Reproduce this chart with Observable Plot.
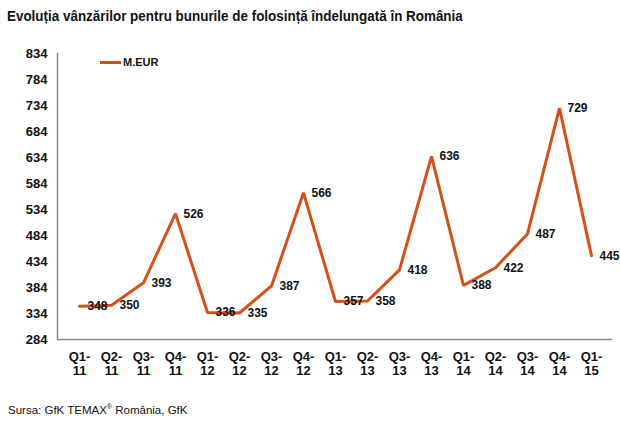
<!DOCTYPE html>
<html>
<head>
<meta charset="utf-8">
<script src="https://cdn.jsdelivr.net/npm/d3@7"></script>
<script src="https://cdn.jsdelivr.net/npm/@observablehq/plot@0.6"></script>
<style>
  html, body { margin: 0; padding: 0; background: #fff; }
  body { width: 620px; height: 433px; position: relative; font-family: "Liberation Sans", Arial, sans-serif; overflow: hidden; }
  #title { position: absolute; left: 7px; top: 7px; font-size: 15px; font-weight: bold; color: #111; white-space: nowrap; transform: scaleX(0.895); transform-origin: 0 0; }
  #chart { position: absolute; left: 0; top: 34px; }
  #legend { position: absolute; left: 100px; top: 56px; font-size: 11px; font-weight: bold; color: #111; display: flex; align-items: center; }
  #legend .sw { display: inline-block; width: 21px; height: 3px; background: #D4501A; margin-right: 2px; }
  #caption { position: absolute; left: 8px; top: 403px; font-size: 11.5px; color: #111; white-space: nowrap; }
</style>
</head>
<body>
<div id="title">Evoluția vânzărilor pentru bunurile de folosință îndelungată în România</div>
<div id="chart"></div>
<div id="legend"><span class="sw"></span>M.EUR</div>
<div id="caption">Sursa: GfK TEMAX<sup style="font-size:7px">®</sup> România, GfK</div>
<script>
const quarters = ["Q1-11","Q2-11","Q3-11","Q4-11","Q1-12","Q2-12","Q3-12","Q4-12","Q1-13","Q2-13","Q3-13","Q4-13","Q1-14","Q2-14","Q3-14","Q4-14","Q1-15"];
const values = [348,350,393,526,336,335,387,566,357,358,418,636,388,422,487,729,445];
const yTicks = [284,334,384,434,484,534,584,634,684,734,784,834];

const data = quarters.map((q, i) => ({q, v: values[i]}));
const lineColor = "#D4501A";

const chart = Plot.plot({
  width: 620,
  height: 355,
  marginLeft: 57,
  marginRight: 8,
  marginTop: 19,
  marginBottom: 50,
  style: {fontFamily: "Liberation Sans, Arial, sans-serif", fontWeight: "bold", fontSize: "13px", color: "#111"},
  x: {type: "point", domain: quarters, padding: 0.5, label: null},
  y: {domain: [284, 834], label: null},
  marks: [
    Plot.frame({anchor: "left", stroke: "#888", strokeWidth: 1.5}),
    Plot.ruleY([284], {stroke: "#888", strokeWidth: 1.5}),
    Plot.axisY({ticks: yTicks, tickSize: 0, tickPadding: 10, fontSize: 13, label: null}),
    Plot.axisX({tickSize: 0, tickPadding: 11, fontSize: 13, lineHeight: 1.1, label: null,
      tickFormat: d => d.replace("-", "-\n")}),
    Plot.line(data, {x: "q", y: "v", stroke: lineColor, strokeWidth: 3, strokeLinejoin: "miter"}),
    Plot.text(data, {x: "q", y: "v", text: d => String(d.v), dx: 8, textAnchor: "start", fontSize: 12, fill: "#111"})
  ]
});
document.getElementById("chart").appendChild(chart);
</script>
</body>
</html>
